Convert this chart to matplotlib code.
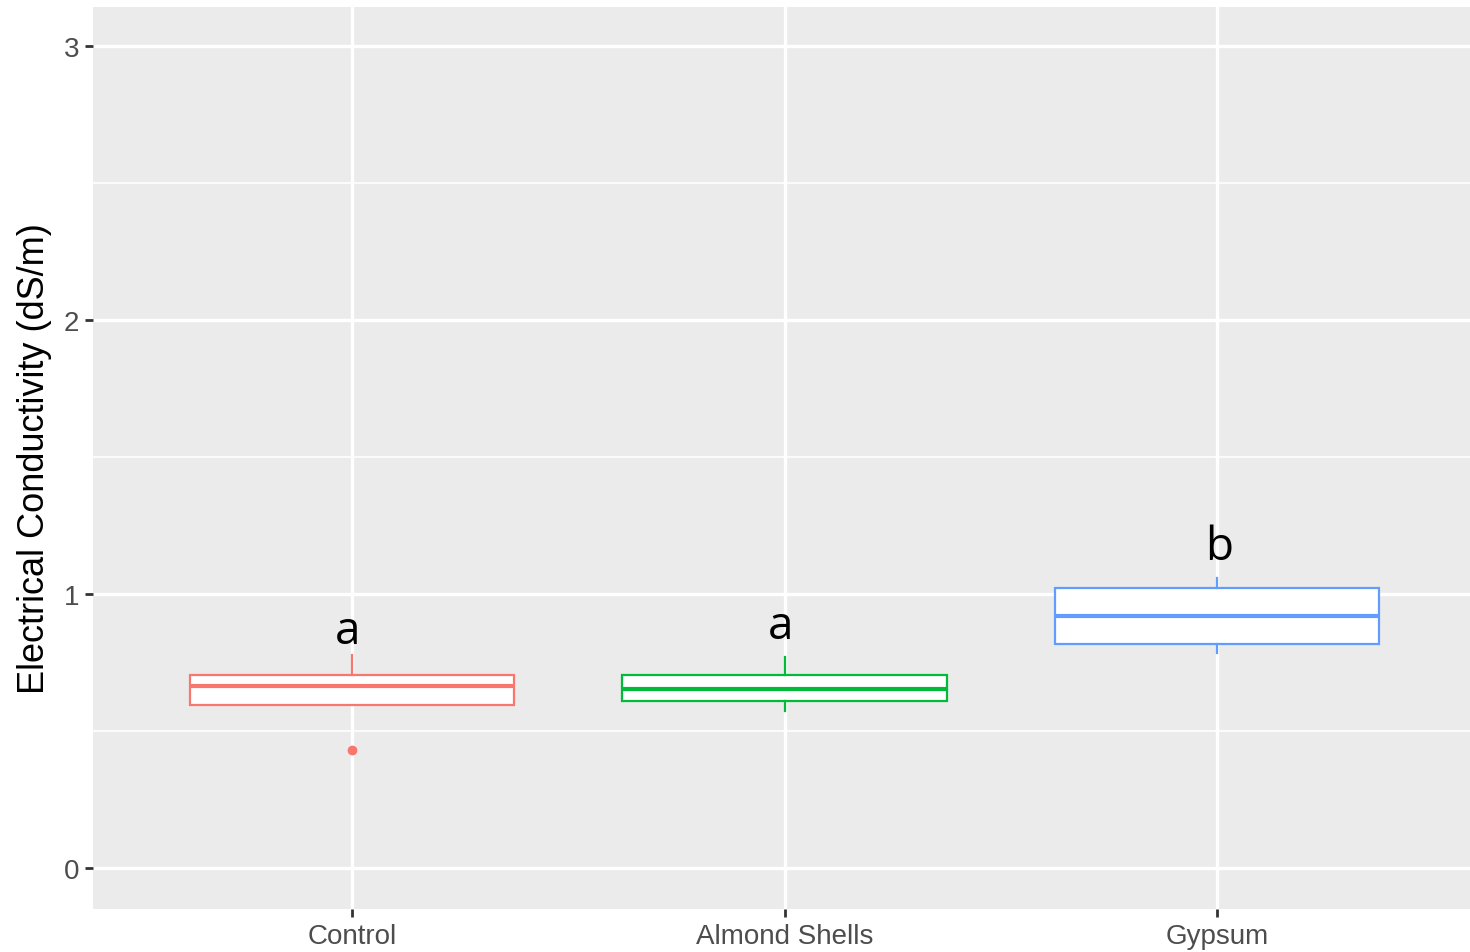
import matplotlib
matplotlib.use("Agg")
import matplotlib.pyplot as plt

categories = ["Control", "Almond Shells", "Gypsum"]
q1 = [0.595, 0.609, 0.818]
med = [0.664, 0.653, 0.920]
q3 = [0.704, 0.704, 1.022]
whislo = [0.595, 0.573, 0.785]
whishi = [0.777, 0.770, 1.058]
outliers = [[0.431], [], []]
colors = ["#F8766D", "#00BA38", "#619CFF"]
letters = ["a", "a", "b"]
letter_y = [0.865, 0.883, 1.172]
letter_dx = [-0.01, -0.01, 0.005]

fig = plt.figure(figsize=(14.70, 9.53), dpi=100)
ax = fig.add_axes([93/1470, 1-910/953, 1-93/1470, (910-8)/953])
ax.set_facecolor("#EBEBEB")
for s in ax.spines.values():
    s.set_visible(False)

pos = list(range(len(categories)))
ax.set_xlim(-0.599, 2.585)
ax.set_ylim(-0.15, 3.142)

# grid
for y in [0.5, 1.5, 2.5]:
    ax.axhline(y, color="white", lw=1.2, zorder=0)
for y in [0, 1, 2, 3]:
    ax.axhline(y, color="white", lw=2.4, zorder=0)
for x in pos:
    ax.axvline(x, color="white", lw=2.4, zorder=0)

for i, p in enumerate(pos):
    st = [dict(med=med[i], q1=q1[i], q3=q3[i], whislo=whislo[i], whishi=whishi[i],
               fliers=outliers[i], label=categories[i])]
    c = colors[i]
    ax.bxp(st, positions=[p], widths=0.75, showcaps=False, patch_artist=True,
           boxprops=dict(facecolor="white", edgecolor=c, linewidth=1.6),
           medianprops=dict(color=c, linewidth=3.0),
           whiskerprops=dict(color=c, linewidth=1.6),
           flierprops=dict(marker="o", markerfacecolor=c, markeredgecolor=c, markersize=6),
           manage_ticks=False, zorder=3)
    ax.text(p + letter_dx[i], letter_y[i], letters[i], ha="center", va="center",
            fontsize=33, color="black", family="Open Sans", zorder=4)

ax.set_xticks(pos)
ax.set_xticklabels(categories)
ax.set_yticks([0, 1, 2, 3])
ax.set_yticklabels(["0", "1", "2", "3"])
ax.tick_params(axis="both", colors="#333333", length=6, width=2,
               labelsize=20, labelcolor="#4D4D4D", pad=4)
for lab in ax.get_xticklabels() + ax.get_yticklabels():
    lab.set_family("Liberation Sans")
ax.set_ylabel("Electrical Conductivity (dS/m)", fontsize=26, family="Liberation Sans",
              color="black", labelpad=8)

fig.savefig("out.png", dpi=100)
